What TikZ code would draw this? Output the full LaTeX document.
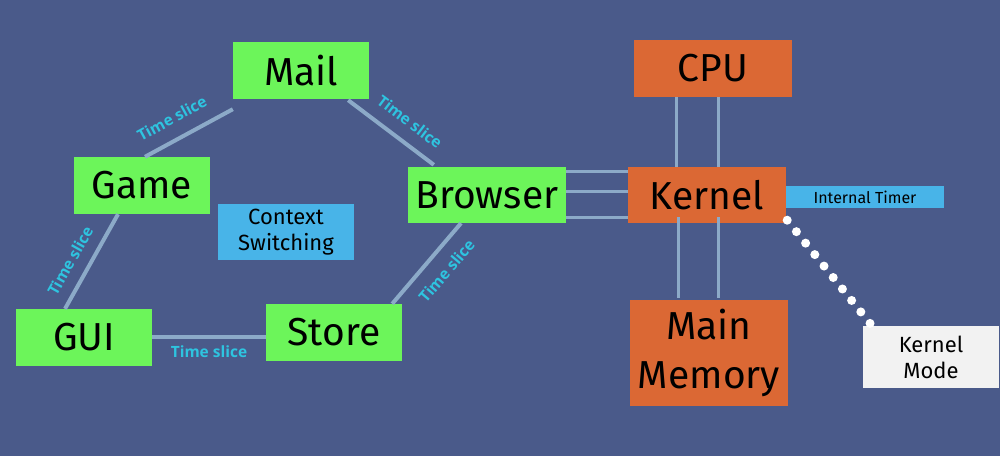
\documentclass[tikz,border=0pt]{standalone}
\usepackage{fontspec}
\setmainfont{Fira Sans}
\newfontfamily\slicefont{Open Sans}
\usetikzlibrary{calc}
\definecolor{bg}{HTML}{4A5A8A}
\definecolor{gbox}{HTML}{6CF55A}
\definecolor{obox}{HTML}{DB6834}
\definecolor{bbox}{HTML}{48B4E8}
\definecolor{wbox}{HTML}{F2F2F2}
\definecolor{conn}{HTML}{8CAAC8}
\definecolor{slice}{HTML}{2EC4E0}
\tikzset{
  box/.style={inner sep=0pt, align=center, text=black},
  bigtext/.style={font=\fontsize{39}{44}\selectfont},
  midtext/.style={font=\fontsize{22}{26}\selectfont},
  greenbox/.style={box, bigtext, fill=gbox, minimum width=136pt, minimum height=57pt},
  orangebox/.style={box, bigtext, fill=obox, minimum width=158pt, minimum height=57pt},
  link/.style={draw=conn, line width=4pt},
  thinlink/.style={draw=conn, line width=3pt},
  slicelabel/.style={font=\slicefont\bfseries\fontsize{15.5}{18}\selectfont, text=slice, inner sep=1pt, sloped},
}
\begin{document}
\begin{tikzpicture}[x=1pt,y=-1pt]
\fill[bg] (0,0) rectangle (1000,456);
\useasboundingbox (0,0) rectangle (1000,456);

\node[greenbox] (mail) at (301,70.5) {Mail};
\node[greenbox] (game) at (142,185.5) {Game};
\node[greenbox] (gui) at (84,337.5) {GUI};
\node[greenbox] (store) at (334,332.5) {Store};
\node[greenbox, minimum width=158pt, minimum height=56pt] (browser) at (487,195) {Browser};
\node[box, midtext, fill=bbox, minimum width=136pt, minimum height=56pt] (ctx) at (286,232) {Context\\Switching};

\node[orangebox] (cpu) at (713,68.5) {CPU};
\node[orangebox, minimum height=56pt] (kernel) at (707,195) {Kernel};
\node[orangebox, minimum height=106pt, font=\fontsize{39}{49}\selectfont] (memory) at (709,353) {Main\\Memory};
\node[box, fill=bbox, minimum width=158pt, minimum height=22pt, font=\fontsize{16}{18}\selectfont] (timer) at (865,197) {Internal Timer};
\node[box, midtext, fill=wbox, minimum width=136pt, minimum height=62pt] (kmode) at (931,357) {Kernel\\Mode};

% ring of time slices
\draw[link] ([xshift=3pt]game.north) -- ([yshift=-10pt]mail.south west)
  node[slicelabel, pos=0.42, above=12pt] {Time slice};
\draw[link] ([xshift=-21pt,yshift=-1pt]mail.south east) -- ([xshift=26pt,yshift=2pt]browser.north west)
  node[slicelabel, pos=0.58, above=11pt] {Time slice};
\draw[link] ([xshift=-19pt]gui.north) -- ([xshift=-24pt]game.south)
  node[slicelabel, pos=0.41, above=10pt] {Time slice};
\draw[link] ([xshift=-10pt]store.north east) -- ([xshift=-26pt]browser.south)
  node[slicelabel, pos=0.57, below=11pt] {Time slice};
\draw[link] ([yshift=0.5pt]gui.east) -- ([yshift=0.5pt]gui.east -| store.west)
  node[slicelabel, midway, below=6pt] {Time slice};

% kernel connections
\foreach \dy in {-22,4,24}{
  \draw[thinlink] ([yshift=\dy pt]browser.east) -- ([yshift=\dy pt]browser.east -| kernel.west);
}
\draw[thinlink] ([xshift=-31pt]kernel.north) -- ([xshift=-31pt]kernel.north |- cpu.south);
\draw[thinlink] ([xshift=11pt]kernel.north) -- ([xshift=11pt]kernel.north |- cpu.south);
\draw[thinlink] ([xshift=-31pt,yshift=2pt]memory.north) -- ([xshift=-31pt,yshift=6pt]memory.north |- kernel.south);
\draw[thinlink] ([xshift=9pt,yshift=2pt]memory.north) -- ([xshift=9pt,yshift=6pt]memory.north |- kernel.south);

% kernel mode dotted link
\draw[white, line width=9pt, line cap=round, dash pattern=on 0pt off 14.7pt]
  ([xshift=1pt,yshift=3pt]kernel.south east) -- ([xshift=14pt,yshift=-6pt]kmode.north west);
\end{tikzpicture}
\end{document}
